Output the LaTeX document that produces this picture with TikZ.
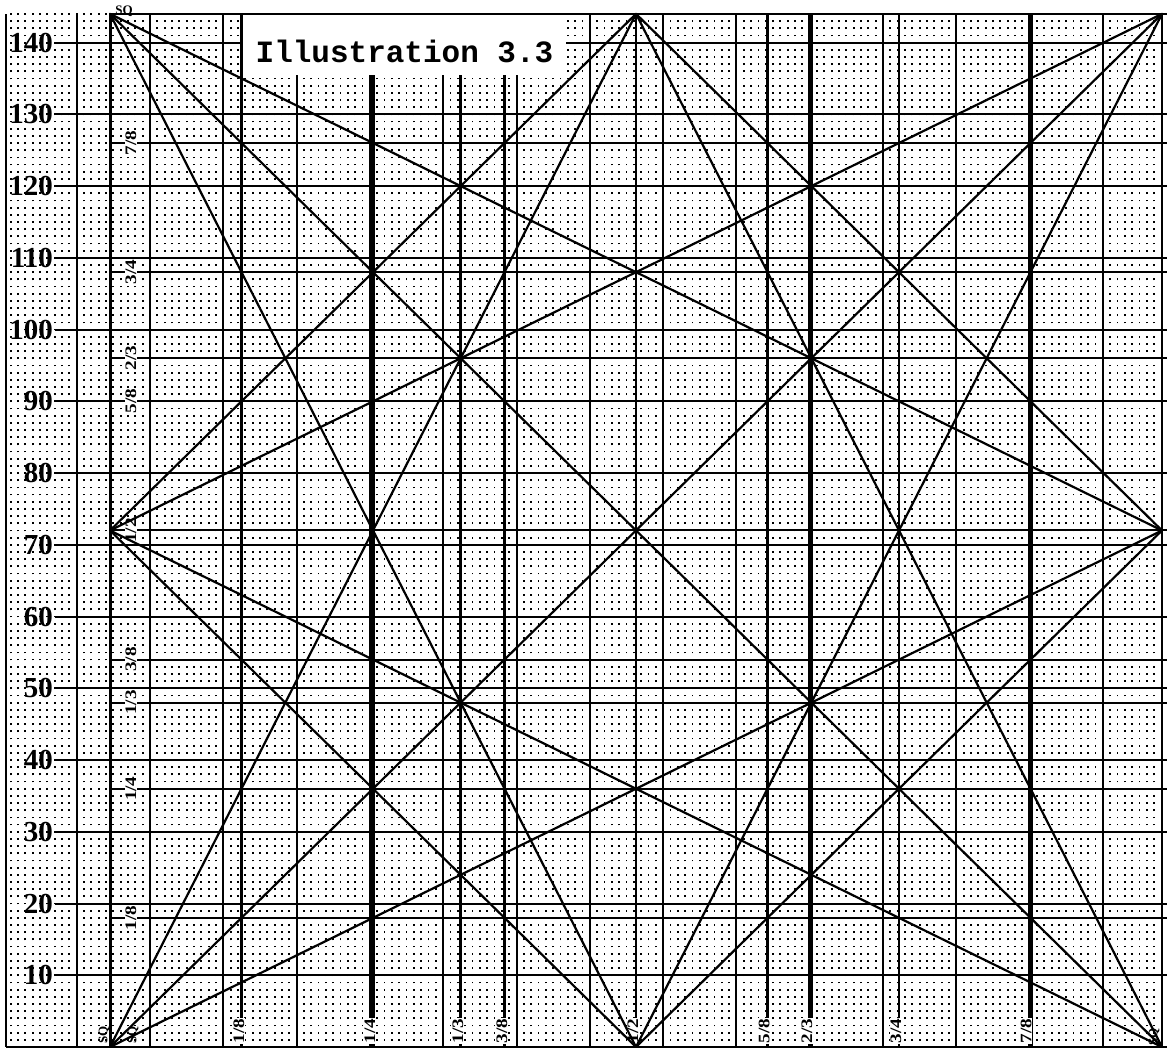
\documentclass[tikz,border=0pt]{standalone}
\usepackage{fontspec}
\setmainfont{Liberation Serif}
\newfontfamily\ttlfont{Liberation Mono}
\begin{document}
\begin{tikzpicture}[x=1pt,y=1pt,
  gridln/.style={line width=2pt},
  fracln/.style={line width=2.6pt},
  thickln/.style={line width=5pt},
  diag/.style={line width=2.2pt, line cap=round},
  dotcol/.style={line width=1.8pt, dash pattern=on 1.8pt off 5.374pt},
  numlab/.style={font=\fontsize{29}{29}\selectfont\bfseries, anchor=east, inner sep=0pt},
  fraclab/.style={font=\fontsize{16}{16}\selectfont\bfseries, rotate=90, fill=white, inner sep=1pt},
  sqlab/.style={font=\fontsize{13}{13}\selectfont\bfseries, inner sep=0.5pt},
]
\useasboundingbox (0,0) rectangle (1167,1048);
\fill[white] (0,0) rectangle (1167,1048);

% dotted minor grid
\foreach \j in {1,...,158}
  \draw[dotcol] ({3.4+7.33*\j},0.1) -- ({3.4+7.33*\j},1035.1);

% regular vertical grid
\foreach \k in {1,...,15}
  \draw[gridln] ({3.4+73.3*\k},1) -- ({3.4+73.3*\k},1034.1);
\draw[gridln] (6,1) -- (6,1034.1);
\draw[gridln] (6,1) -- (1167,1);
\draw[line width=3pt] (110,1) -- (110,1034.1);
\draw[line width=2.5pt] (1162,1) -- (1162,1034.1);

% horizontal 10-unit lines with labels
\foreach \v in {10,20,...,140} {
  \node[numlab] (n\v) at (53,{1+7.174*\v}) {\v};
  \draw[gridln] (n\v.east) ++(2,0) -- (1167,{1+7.174*\v});
}

% fractional horizontal lines
\foreach \v in {18,36,48,54,72,96,108,126}
  \draw[gridln] (110,{1+7.174*\v}) -- (1167,{1+7.174*\v});

% fractional vertical lines
\foreach \x in {241.5,460.7,504.5,767.5,899}
  \draw[fracln] (\x,1) -- (\x,1034.1);
\draw[gridln] (636,1) -- (636,1034.1);
\foreach \x in {372,810.5,1030}
  \draw[thickln] (\x,1) -- (\x,1034.1);

% title box
\node[fill=white, minimum width=323pt, minimum height=60pt, inner sep=0pt] (titlebox) at (404.5,1003) {};
\draw[gridln] (110,1034.1) -- (1167,1034.1);
\node[font=\ttlfont\bfseries\fontsize{31}{31}\selectfont, anchor=base, inner sep=0pt] (title) at (404.5,985) {Illustration 3.3};

% left fraction labels
\node[fraclab] (l18) at (131,{1+7.174*18}) {\scalebox{1.2}[1]{1/8}};
\node[fraclab] (l36) at (131,{1+7.174*36}) {\scalebox{1.2}[1]{1/4}};
\node[fraclab] (l48) at (131,{1+7.174*48}) {\scalebox{1.2}[1]{1/3}};
\node[fraclab] (l54) at (131,{1+7.174*54}) {\scalebox{1.2}[1]{3/8}};
\node[fraclab] (l72) at (131,{1+7.174*72}) {\scalebox{1.2}[1]{1/2}};
\node[fraclab] (l90) at (131,{1+7.174*90}) {\scalebox{1.2}[1]{5/8}};
\node[fraclab] (l96) at (131,{1+7.174*96}) {\scalebox{1.2}[1]{2/3}};
\node[fraclab] (l108) at (131,{1+7.174*108}) {\scalebox{1.2}[1]{3/4}};
\node[fraclab] (l126) at (131,{1+7.174*126}) {\scalebox{1.2}[1]{7/8}};

% bottom fraction labels
\node[fraclab] (b1) at (239,17) {\scalebox{1.2}[1]{1/8}};
\node[fraclab] (b2) at (370,17) {\scalebox{1.2}[1]{1/4}};
\node[fraclab] (b3) at (458,17) {\scalebox{1.2}[1]{1/3}};
\node[fraclab] (b4) at (502,17) {\scalebox{1.2}[1]{3/8}};
\node[fraclab] (b5) at (633,17) {\scalebox{1.2}[1]{1/2}};
\node[fraclab] (b6) at (764,17) {\scalebox{1.2}[1]{5/8}};
\node[fraclab] (b7) at (807,17) {\scalebox{1.2}[1]{2/3}};
\node[fraclab] (b8) at (896,17) {\scalebox{1.2}[1]{3/4}};
\node[fraclab] (b9) at (1026,17) {\scalebox{1.2}[1]{7/8}};

% SQ labels
\node[sqlab, rotate=90] (sq1) at (104,13) {SQ};
\node[sqlab, rotate=90] (sq2) at (133,13) {SQ};
\node[sqlab, rotate=90] (sq3) at (1154,11) {SQ};
\node[sqlab] (sq4) at (124,1037) {SQ};

% armature points
\coordinate (BL) at (110,1);
\coordinate (BR) at (1162,1);
\coordinate (TL) at (110,1034.1);
\coordinate (TR) at (1162,1034.1);
\coordinate (TM) at (636,1034.1);
\coordinate (BM) at (636,1);
\coordinate (LM) at (110,517.5);
\coordinate (RM) at (1162,517.5);

% diagonals
\draw[diag] (TL) -- (BR);
\draw[diag] (TR) -- (BL);
\draw[diag] (TL) -- (BM);
\draw[diag] (TL) -- (RM);
\draw[diag] (TR) -- (BM);
\draw[diag] (TR) -- (LM);
\draw[diag] (BL) -- (TM);
\draw[diag] (BL) -- (RM);
\draw[diag] (BR) -- (TM);
\draw[diag] (BR) -- (LM);
\draw[diag] (TM) -- (LM);
\draw[diag] (TM) -- (RM);
\draw[diag] (BM) -- (LM);
\draw[diag] (BM) -- (RM);
\end{tikzpicture}
\end{document}
